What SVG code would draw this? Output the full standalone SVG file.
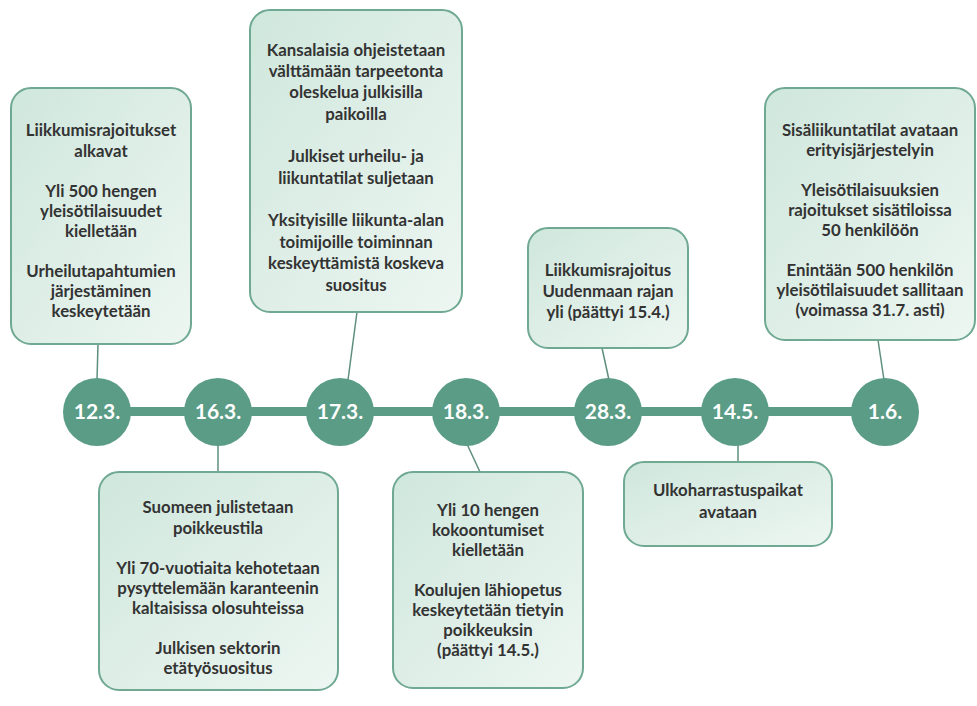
<svg xmlns="http://www.w3.org/2000/svg" width="977" height="706" viewBox="0 0 977 706">
<defs>
<linearGradient id="g" x1="0" y1="0" x2="1" y2="1">
<stop offset="0" stop-color="#cfe7dc"/>
<stop offset="1" stop-color="#edf6f2"/>
</linearGradient>
<style>
.box{fill:url(#g);stroke:#6fa893;stroke-width:2}
.t{font-family:Lato,"Open Sans",sans-serif;font-weight:bold;font-size:16.8px;fill:#333;text-anchor:middle}
.c{fill:#5a9c85}
.d{font-family:Lato,"Open Sans",sans-serif;font-weight:bold;font-size:21px;fill:#fff;text-anchor:middle}
.ln{stroke:#5f8f7c;stroke-width:1.5;fill:none}
</style>
</defs>
<rect width="977" height="706" fill="#fff"/>
<g id="connectors">
<rect x="125" y="407" width="730" height="9" fill="#5a9c85"/>
<line class="ln" x1="98" y1="344" x2="97" y2="380"/>
<line class="ln" x1="357" y1="312" x2="348" y2="380"/>
<line class="ln" x1="602" y1="348" x2="609" y2="380"/>
<line class="ln" x1="878" y1="340" x2="884" y2="380"/>
<line class="ln" x1="218" y1="444" x2="218" y2="472"/>
<line class="ln" x1="467" y1="444" x2="480" y2="472"/>
<line class="ln" x1="738" y1="444" x2="738" y2="462"/>
</g>
<g id="d123"><circle class="c" cx="97" cy="412" r="34"/><text class="d" x="97" y="419">12.3.</text></g>
<g id="d163"><circle class="c" cx="218" cy="412" r="34"/><text class="d" x="218" y="419">16.3.</text></g>
<g id="d173"><circle class="c" cx="340" cy="412" r="34"/><text class="d" x="340" y="419">17.3.</text></g>
<g id="d183"><circle class="c" cx="466" cy="412" r="34"/><text class="d" x="466" y="419">18.3.</text></g>
<g id="d283"><circle class="c" cx="608" cy="412" r="34"/><text class="d" x="608" y="419">28.3.</text></g>
<g id="d145"><circle class="c" cx="735" cy="412" r="34"/><text class="d" x="735" y="419">14.5.</text></g>
<g id="d16"><circle class="c" cx="885" cy="412" r="34"/><text class="d" x="885" y="419">1.6.</text></g>
<g id="b123">
<rect class="box" x="11" y="88" width="180" height="256" rx="20"/>
<text class="t" x="101" y="136">Liikkumisrajoitukset</text>
<text class="t" x="101" y="157">alkavat</text>
<text class="t" x="101" y="197">Yli 500 hengen</text>
<text class="t" x="101" y="217">yleisötilaisuudet</text>
<text class="t" x="101" y="237">kielletään</text>
<text class="t" x="101" y="277">Urheilutapahtumien</text>
<text class="t" x="101" y="297">järjestäminen</text>
<text class="t" x="101" y="317">keskeytetään</text>
</g>
<g id="b173">
<rect class="box" x="250" y="10" width="212" height="302" rx="20"/>
<text class="t" x="356" y="56">Kansalaisia ohjeistetaan</text>
<text class="t" x="356" y="77">välttämään tarpeetonta</text>
<text class="t" x="356" y="98">oleskelua julkisilla</text>
<text class="t" x="356" y="120">paikoilla</text>
<text class="t" x="356" y="162">Julkiset urheilu- ja</text>
<text class="t" x="356" y="184">liikuntatilat suljetaan</text>
<text class="t" x="356" y="226">Yksityisille liikunta-alan</text>
<text class="t" x="356" y="248">toimijoille toiminnan</text>
<text class="t" x="356" y="269">keskeyttämistä koskeva</text>
<text class="t" x="356" y="291">suositus</text>
</g>
<g id="b283">
<rect class="box" x="528" y="228" width="160" height="120" rx="20"/>
<text class="t" x="608" y="276">Liikkumisrajoitus</text>
<text class="t" x="608" y="297">Uudenmaan rajan</text>
<text class="t" x="608" y="318">yli (päättyi 15.4.)</text>
</g>
<g id="b16">
<rect class="box" x="765" y="88" width="210" height="252" rx="20"/>
<text class="t" x="870" y="136">Sisäliikuntatilat avataan</text>
<text class="t" x="870" y="156">erityisjärjestelyin</text>
<text class="t" x="870" y="196">Yleisötilaisuuksien</text>
<text class="t" x="870" y="216">rajoitukset sisätiloissa</text>
<text class="t" x="870" y="236">50 henkilöön</text>
<text class="t" x="870" y="276">Enintään 500 henkilön</text>
<text class="t" x="870" y="296">yleisötilaisuudet sallitaan</text>
<text class="t" x="870" y="316">(voimassa 31.7. asti)</text>
</g>
<g id="b163">
<rect class="box" x="99" y="472" width="239" height="218" rx="20"/>
<text class="t" x="218" y="513">Suomeen julistetaan</text>
<text class="t" x="218" y="534">poikkeustila</text>
<text class="t" x="218" y="574">Yli 70-vuotiaita kehotetaan</text>
<text class="t" x="218" y="594">pysyttelemään karanteenin</text>
<text class="t" x="218" y="614">kaltaisissa olosuhteissa</text>
<text class="t" x="218" y="654">Julkisen sektorin</text>
<text class="t" x="218" y="674">etätyösuositus</text>
</g>
<g id="b183">
<rect class="box" x="393" y="472" width="190" height="216" rx="20"/>
<text class="t" x="488" y="516">Yli 10 hengen</text>
<text class="t" x="488" y="536">kokoontumiset</text>
<text class="t" x="488" y="556">kielletään</text>
<text class="t" x="488" y="596">Koulujen lähiopetus</text>
<text class="t" x="488" y="616">keskeytetään tietyin</text>
<text class="t" x="488" y="636">poikkeuksin</text>
<text class="t" x="488" y="656">(päättyi 14.5.)</text>
</g>
<g id="b145">
<rect class="box" x="624" y="462" width="208" height="84" rx="20"/>
<text class="t" x="728" y="496">Ulkoharrastuspaikat</text>
<text class="t" x="728" y="518">avataan</text>
</g>
</svg>
